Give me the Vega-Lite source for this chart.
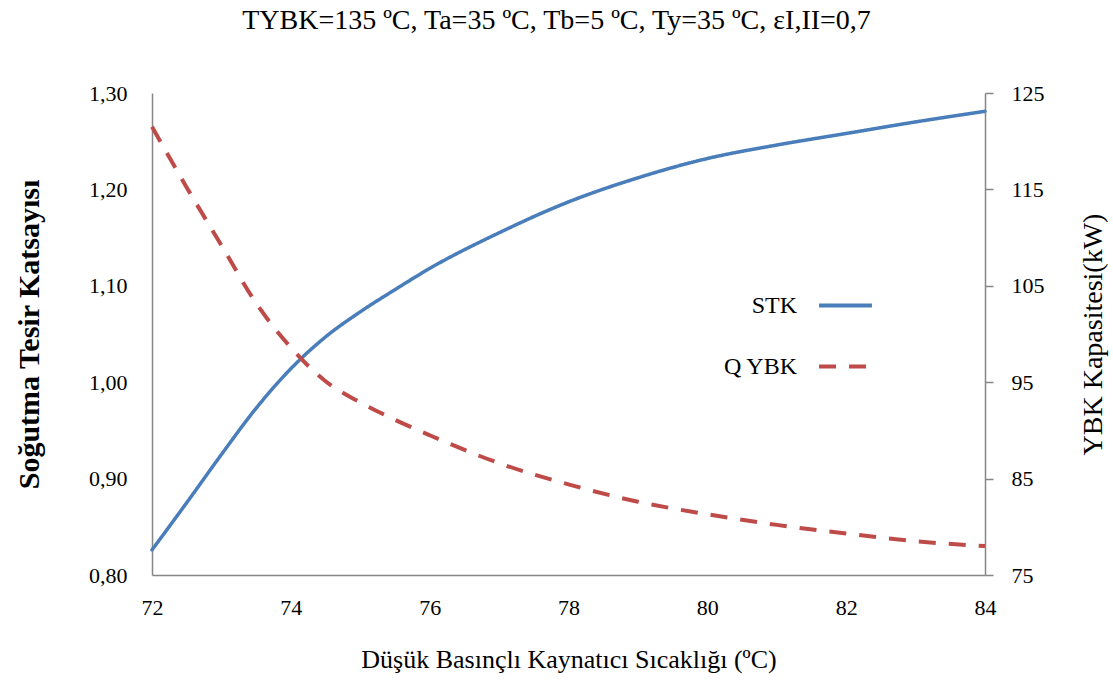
{
  "$schema": "https://vega.github.io/schema/vega-lite/v6.json",
  "width": 833,
  "height": 482,
  "autosize": {"type": "none"},
  "padding": {"left": 152, "top": 93, "right": 128, "bottom": 108},
  "background": "white",
  "title": {
    "text": "TYBK=135  ºC, Ta=35 ºC, Tb=5 ºC, Ty=35 ºC, εI,II=0,7",
    "font": "Liberation Serif",
    "fontSize": 28,
    "fontWeight": "normal",
    "color": "black",
    "anchor": "middle",
    "frame": "group",
    "offset": 47,
    "dx": -12
  },
  "data": {
    "values": [
      {"T": 72, "STK": 0.826, "Q": 121.5},
      {"T": 72.5, "STK": 0.875, "Q": 115.2},
      {"T": 73, "STK": 0.925, "Q": 109.2},
      {"T": 73.5, "STK": 0.973, "Q": 103.2},
      {"T": 74, "STK": 1.014, "Q": 98.6},
      {"T": 74.5, "STK": 1.047, "Q": 95.1},
      {"T": 75, "STK": 1.073, "Q": 92.9},
      {"T": 75.5, "STK": 1.096, "Q": 91.1},
      {"T": 76, "STK": 1.118, "Q": 89.5},
      {"T": 77, "STK": 1.155, "Q": 86.6},
      {"T": 78, "STK": 1.187, "Q": 84.4},
      {"T": 79, "STK": 1.212, "Q": 82.6},
      {"T": 80, "STK": 1.232, "Q": 81.3},
      {"T": 81, "STK": 1.246, "Q": 80.2},
      {"T": 82, "STK": 1.258, "Q": 79.3},
      {"T": 83, "STK": 1.270, "Q": 78.5},
      {"T": 84, "STK": 1.281, "Q": 78.0}
    ]
  },
  "encoding": {
    "x": {
      "field": "T",
      "type": "quantitative",
      "scale": {"domain": [72, 84], "nice": false, "zero": false},
      "axis": {
        "values": [72, 74, 76, 78, 80, 82, 84],
        "title": "Düşük Basınçlı Kaynatıcı  Sıcaklığı (ºC)",
        "titleFont": "Liberation Serif",
        "labelFont": "Liberation Serif",
        "titleFontSize": 26,
        "labelFlush": false,
        "grid": false,
        "ticks": false,
        "labelPadding": 22,
        "titlePadding": 28
      }
    }
  },
  "layer": [
    {
      "mark": {"type": "line", "interpolate": "monotone", "strokeWidth": 3.5, "strokeCap": "round"},
      "encoding": {
        "y": {
          "field": "STK",
          "type": "quantitative",
          "scale": {"domain": [0.8, 1.3], "nice": false, "zero": false},
          "axis": {
            "orient": "left",
            "values": [0.8, 0.9, 1.0, 1.1, 1.2, 1.3],
            "labelExpr": "replace(format(datum.value, '.2f'), '.', ',')",
            "title": "Soğutma Tesir Katsayısı",
            "titleFont": "Liberation Serif",
            "labelFont": "Liberation Serif",
            "labelFlush": false,
            "titleFontWeight": "bold",
            "titleFontSize": 30,
            "ticks": false,
            "grid": false,
            "labelPadding": 25,
            "titlePadding": 44
          }
        },
        "color": {
          "datum": "STK",
          "type": "nominal",
          "scale": {"domain": ["STK", "Q YBK"], "range": ["#4A7EBB", "#BE4B48"]}
        },
        "strokeDash": {
          "datum": "STK",
          "type": "nominal",
          "scale": {"domain": ["STK", "Q YBK"], "range": [[1, 0], [17, 13]]}
        }
      }
    },
    {
      "mark": {"type": "line", "interpolate": "monotone", "strokeWidth": 4},
      "encoding": {
        "y": {
          "field": "Q",
          "type": "quantitative",
          "scale": {"domain": [75, 125], "nice": false, "zero": false},
          "axis": {
            "orient": "right",
            "values": [75, 85, 95, 105, 115, 125],
            "title": "YBK Kapasitesi(kW)",
            "titleFont": "Liberation Serif",
            "labelFont": "Liberation Serif",
            "labelFlush": false,
            "titleAngle": -90,
            "titleFontWeight": "normal",
            "titleFontSize": 28,
            "ticks": true,
            "tickSize": 8,
            "tickColor": "#868686",
            "tickWidth": 1.5,
            "grid": false,
            "labelPadding": 18,
            "titlePadding": 63
          }
        },
        "color": {"datum": "Q YBK", "type": "nominal"},
        "strokeDash": {"datum": "Q YBK", "type": "nominal"}
      }
    }
  ],
  "resolve": {"scale": {"y": "independent"}},
  "config": {
    "view": {"stroke": null},
    "font": "Liberation Serif",
    "axis": {
      "labelFont": "Liberation Serif",
      "labelFontSize": 22,
      "labelColor": "black",
      "titleFont": "Liberation Serif",
      "titleFontSize": 23,
      "titleFontWeight": "normal",
      "titleColor": "black",
      "domainColor": "#868686",
      "domainWidth": 1.5
    },
    "legend": {
      "orient": "none",
      "legendX": 665,
      "legendY": 184,
      "title": null,
      "symbolType": "stroke",
      "symbolSize": 2800,
      "symbolStrokeWidth": 4,
      "labelFont": "Liberation Serif",
      "labelFontSize": 24,
      "labelColor": "black",
      "labelAlign": "right",
      "labelOffset": -77,
      "rowPadding": 20
    }
  }
}
